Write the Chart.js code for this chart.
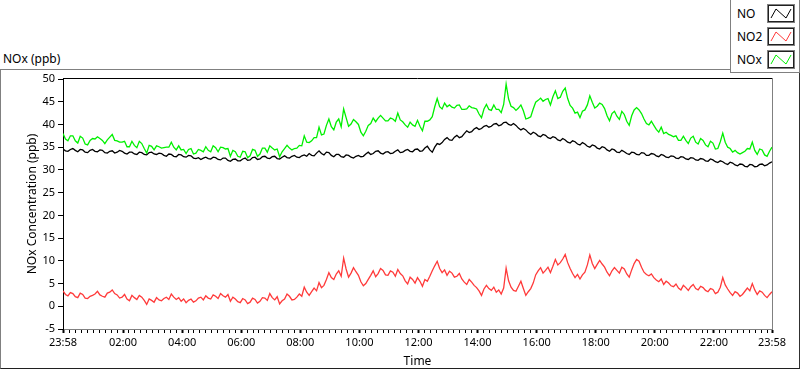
<!DOCTYPE html>
<html>
<head>
<meta charset="utf-8">
<title>NOx (ppb)</title>
<script src="https://cdn.jsdelivr.net/npm/chart.js@4.4.1/dist/chart.umd.min.js"></script>
<style>
	html, body { margin: 0; padding: 0; background: #fff; }
	body { width: 800px; height: 369px; position: relative; overflow: hidden; font-family: "Noto Sans", sans-serif; color: #000; }
	#frame { position: absolute; left: 0; top: 69px; width: 798px; height: 298px; border-top: 1px solid #808080; border-left: 1px solid #808080; border-right: 1px solid #303030; border-bottom: 1px solid #202020; }
	#chartTitle { position: absolute; left: 3px; top: 51px; font-size: 12px; line-height: 16px; }
	#legend { position: absolute; left: 730px; top: -1px; width: 68px; height: 72px; border: 1px solid #808080; background: #fff; }
	.row { position: absolute; left: 6px; width: 60px; height: 19px; }
	.row span { position: absolute; left: 0; top: 0; font-size: 12px; line-height: 19px; }
	.row svg { position: absolute; left: 30px; top: 0; }
	canvas { position: absolute; left: 0; top: 0; }
</style>
</head>
<body>
<div id="frame"></div>
<div id="chartTitle">NOx (ppb)</div>
<div id="legend"></div>
<canvas id="myChart" width="800" height="369"></canvas>
<script>
// one sample every 5 minutes, starting 23:58
var sampleStep = 5;

var seriesNames = ["NO", "NO2", "NOx"];
var seriesColors = ["#000000", "#ff3a3a", "#00f000"];

var noValues = [
	34.6, 34.2, 34.1, 34.5, 34.7, 34.3, 34.0, 34.5, 34.4, 33.9, 33.8, 34.3, 34.5, 34.1, 34.0, 34.4, 34.3, 33.8, 33.7, 34.1,
	34.2, 33.7, 33.9, 34.3, 34.1, 33.7, 33.5, 33.9, 33.9, 33.5, 33.4, 33.9, 33.8, 33.4, 33.3, 33.8, 33.9, 33.5, 33.4, 33.7,
	33.6, 33.2, 33.0, 33.5, 33.4, 33.0, 32.9, 33.4, 33.3, 32.9, 32.8, 33.2, 33.1, 32.6, 32.5, 32.7, 32.3, 32.6, 32.8, 32.5,
	32.4, 32.8, 32.7, 32.3, 32.2, 32.6, 32.6, 32.1, 31.9, 32.3, 32.4, 32.0, 32.0, 32.4, 32.6, 32.1, 32.2, 32.7, 32.8, 32.3,
	32.4, 32.9, 33.0, 32.6, 32.5, 32.9, 33.0, 32.5, 32.4, 32.8, 33.1, 32.7, 32.6, 33.0, 33.2, 32.8, 32.7, 33.1, 33.3, 33.0,
	33.6, 33.2, 33.1, 33.7, 34.2, 33.6, 33.3, 33.9, 33.8, 33.2, 32.9, 33.4, 33.4, 32.9, 32.8, 33.3, 33.2, 32.8, 32.6, 33.0,
	33.2, 32.9, 33.0, 33.5, 33.9, 33.4, 33.6, 34.1, 34.2, 33.7, 33.5, 33.9, 34.0, 33.6, 33.7, 34.1, 34.4, 33.8, 33.9, 34.3,
	34.5, 34.1, 34.0, 34.5, 34.6, 34.1, 34.2, 34.8, 35.2, 34.4, 33.9, 35.0, 35.8, 35.6, 36.0, 36.7, 37.1, 36.6, 36.5, 37.2,
	37.6, 37.1, 37.3, 38.0, 38.6, 38.2, 38.4, 39.0, 39.3, 38.9, 39.1, 39.6, 39.8, 39.4, 39.6, 40.1, 40.2, 39.7, 39.9, 40.4,
	40.5, 40.0, 39.8, 40.2, 39.8, 39.2, 38.8, 39.1, 38.8, 38.2, 37.8, 38.3, 38.0, 37.5, 37.3, 37.8, 37.6, 37.1, 36.9, 37.3,
	37.1, 36.6, 36.4, 36.9, 36.6, 36.1, 35.9, 36.4, 36.2, 35.7, 35.5, 36.0, 35.7, 35.2, 35.0, 35.5, 35.3, 34.8, 34.6, 35.1,
	34.9, 34.4, 34.1, 34.6, 34.4, 33.9, 33.8, 34.3, 34.0, 33.6, 33.4, 33.9, 33.8, 33.4, 33.3, 33.8, 33.7, 33.2, 33.2, 33.6,
	33.5, 33.1, 32.9, 33.4, 33.2, 32.8, 32.7, 33.1, 33.0, 32.6, 32.5, 32.9, 32.8, 32.4, 32.3, 32.7, 32.6, 32.2, 32.1, 32.5,
	32.4, 32.0, 31.9, 32.4, 32.2, 31.8, 31.6, 32.0, 31.8, 31.4, 31.2, 31.7, 31.5, 31.1, 30.9, 31.3, 31.2, 30.8, 30.7, 31.2,
	31.1, 30.7, 30.8, 31.2, 31.3, 30.9, 31.1, 31.5, 31.8
];

var no2Values = [
	3.4, 2.6, 2.3, 3.0, 2.8, 2.1, 1.9, 2.9, 2.6, 1.8, 1.7, 2.2, 2.4, 2.7, 3.3, 2.5, 2.2, 2.0, 2.9, 3.1,
	3.6, 2.8, 2.5, 1.8, 2.0, 2.6, 1.6, 1.2, 2.4, 1.9, 1.5, 2.4, 2.0, 1.3, 0.4, 1.6, 1.3, 0.9, 1.9, 1.4,
	1.2, 1.7, 2.0, 1.5, 2.7, 2.0, 1.5, 1.9, 1.1, 1.6, 0.8, 1.3, 1.6, 0.9, 1.2, 1.8, 2.0, 1.4, 2.3, 1.8,
	1.6, 2.5, 2.2, 1.7, 2.8, 2.3, 2.0, 2.6, 1.1, 2.0, 1.6, 1.0, 0.8, 1.7, 1.4, 0.6, 0.9, 1.8, 1.5, 0.7,
	1.1, 1.9, 1.8, 1.3, 2.8, 1.9, 1.4, 2.1, 0.5, 1.2, 1.6, 2.7, 2.2, 1.4, 1.5, 2.0, 2.7, 2.2, 4.2, 3.1,
	2.4, 3.2, 4.0, 3.4, 5.2, 4.1, 4.6, 5.9, 7.4, 6.3, 5.9, 7.1, 7.8, 6.6, 10.6, 8.2, 6.4, 7.3, 8.5, 7.6,
	6.8, 5.4, 4.5, 5.0, 5.9, 6.8, 7.8, 6.5, 7.2, 8.3, 7.9, 6.9, 6.8, 7.8, 7.5, 6.6, 8.1, 7.2, 6.7, 5.6,
	4.9, 6.4, 5.9, 5.1, 6.3, 5.5, 4.4, 5.9, 5.5, 6.6, 7.8, 8.9, 9.9, 8.3, 7.4, 8.0, 6.8, 7.7, 7.3, 6.4,
	6.6, 7.2, 6.0, 5.3, 4.8, 5.9, 5.3, 4.6, 4.1, 3.4, 2.4, 3.8, 4.6, 3.9, 3.5, 4.2, 3.1, 3.6, 2.7, 4.0,
	8.4, 5.6, 4.2, 3.5, 3.3, 4.4, 5.5, 3.9, 2.4, 3.2, 3.9, 5.1, 6.9, 7.8, 8.5, 7.3, 7.9, 8.6, 7.4, 8.8,
	10.3, 9.1, 9.6, 10.4, 11.4, 9.6, 8.3, 7.2, 6.3, 7.0, 6.0, 6.9, 7.5, 9.1, 11.3, 9.4, 8.3, 9.2, 10.1, 9.3,
	8.6, 7.5, 6.7, 7.8, 8.5, 7.9, 7.3, 8.6, 8.2, 7.1, 6.4, 8.0, 9.4, 10.3, 9.9, 8.6, 7.5, 7.0, 6.7, 7.1,
	6.3, 5.8, 5.4, 6.0, 4.8, 5.5, 5.1, 4.5, 4.3, 4.9, 4.0, 3.6, 4.6, 4.1, 3.5, 4.3, 4.8, 3.9, 3.6, 4.4,
	4.1, 3.5, 3.2, 3.9, 3.7, 2.8, 3.1, 4.2, 6.3, 4.7, 3.8, 3.0, 2.4, 3.2, 2.9, 2.2, 2.6, 3.3, 4.0, 3.4,
	5.0, 3.6, 2.6, 3.4, 3.1, 2.4, 1.9, 2.6, 3.2
];

var noxValues = [
	38.0, 36.8, 36.4, 37.5, 37.5, 36.4, 35.9, 37.4, 37.0, 35.7, 35.5, 36.5, 36.9, 36.8, 37.3, 36.9, 36.5, 35.8, 36.6, 37.2,
	37.8, 36.5, 36.4, 36.1, 36.1, 36.3, 35.1, 35.1, 36.3, 35.4, 34.9, 36.3, 35.8, 34.7, 33.7, 35.4, 35.2, 34.4, 35.3, 35.1,
	34.8, 34.9, 35.0, 35.0, 36.1, 35.0, 34.4, 35.3, 34.4, 34.5, 33.6, 34.5, 34.7, 33.5, 33.7, 34.5, 34.3, 34.0, 35.1, 34.3,
	34.0, 35.3, 34.9, 34.0, 35.0, 34.9, 34.6, 34.7, 33.0, 34.3, 34.0, 33.0, 32.8, 34.1, 34.0, 32.7, 33.1, 34.5, 34.3, 33.0,
	33.5, 34.8, 34.8, 33.9, 35.3, 34.8, 34.4, 34.6, 32.9, 34.0, 34.7, 35.4, 34.8, 34.4, 34.7, 34.8, 35.4, 35.3, 37.5, 36.1,
	36.0, 36.4, 37.1, 37.1, 39.4, 37.7, 37.9, 39.8, 41.2, 39.5, 38.8, 40.5, 41.2, 39.5, 43.4, 41.5, 39.6, 40.1, 41.1, 40.6,
	40.0, 38.3, 37.5, 38.5, 39.8, 40.2, 41.4, 40.6, 41.4, 42.0, 41.4, 40.8, 40.8, 41.4, 41.2, 40.7, 42.5, 41.0, 40.6, 39.9,
	39.4, 40.5, 39.9, 39.6, 40.9, 39.6, 38.6, 40.7, 40.7, 41.0, 41.7, 43.9, 45.7, 43.9, 43.4, 44.7, 43.9, 44.3, 43.8, 43.6,
	44.2, 44.3, 43.3, 43.3, 43.4, 44.1, 43.7, 43.6, 43.4, 42.3, 41.5, 43.4, 44.4, 43.3, 43.1, 44.3, 43.3, 43.3, 42.6, 44.4,
	48.9, 45.6, 44.0, 43.7, 43.1, 43.6, 44.3, 43.0, 41.2, 41.4, 41.7, 43.4, 44.9, 45.3, 45.8, 45.1, 45.5, 45.7, 44.3, 46.1,
	47.4, 45.7, 46.0, 47.3, 48.0, 45.7, 44.2, 43.6, 42.5, 42.7, 41.5, 42.9, 43.2, 44.3, 46.3, 44.9, 43.6, 44.0, 44.7, 44.4,
	43.5, 41.9, 40.8, 42.4, 42.9, 41.8, 41.1, 42.9, 42.2, 40.7, 39.8, 41.9, 43.2, 43.7, 43.2, 42.4, 41.2, 40.2, 39.9, 40.7,
	39.8, 38.9, 38.3, 39.4, 38.0, 38.3, 37.8, 37.6, 37.3, 37.5, 36.5, 36.5, 37.4, 36.5, 35.8, 37.0, 37.4, 36.1, 35.7, 36.9,
	36.5, 35.5, 35.1, 36.3, 35.9, 34.6, 34.7, 36.2, 38.1, 36.1, 35.0, 34.7, 33.9, 34.3, 33.8, 33.5, 33.8, 34.1, 34.7, 34.6,
	36.1, 34.3, 33.4, 34.6, 34.4, 33.3, 33.0, 34.1, 35.0
];

// x axis: minutes after 23:58
var majorTicks = [0, 122, 242, 362, 482, 602, 722, 842, 962, 1082, 1202, 1322, 1440];
var timeLabels = ["23:58", "02:00", "04:00", "06:00", "08:00", "10:00", "12:00", "14:00", "16:00", "18:00", "20:00", "22:00", "23:58"];
var minorStart = 14;
var minorStep = 12;

var yTicks = { min: -5, max: 50, step: 5 };

var fontName = "'Noto Sans', sans-serif";

function toPoints(values) {
	return values.map(function(v, i) {
		return { x: i * sampleStep, y: v };
	});
}

function isMajor(v) {
	return majorTicks.indexOf(v) !== -1;
}

// legend box top right
var legendEl = document.getElementById("legend");
seriesNames.forEach(function(name, i) {
	var row = document.createElement("div");
	row.className = "row";
	row.style.top = (4 + i * 23) + "px";
	row.innerHTML = "<span>" + name + "</span>" +
		"<svg width='28' height='19'>" +
		"<rect x='0.5' y='0.5' width='27' height='18' fill='#fff' stroke='#808080'/>" +
		"<rect x='1.5' y='1.5' width='25' height='16' fill='none' stroke='#202020'/>" +
		"<polyline points='4,14 9,5 19,14 24,5' fill='none' stroke='" + seriesColors[i] + "' stroke-width='1'/>" +
		"</svg>";
	legendEl.appendChild(row);
});

var plotFrame = {
	id: "plotFrame",
	afterDraw: function(chart) {
		var a = chart.chartArea;
		var c = chart.ctx;
		c.save();
		c.lineWidth = 1;
		c.strokeStyle = "#000";
		c.beginPath();
		c.moveTo(a.left, a.top - 0.5);
		c.lineTo(a.right, a.top - 0.5);
		c.stroke();
		c.strokeStyle = "#808080";
		c.beginPath();
		c.moveTo(a.right + 0.5, a.top - 1);
		c.lineTo(a.right + 0.5, a.bottom);
		c.stroke();
		c.restore();
	}
};

var datasets = [noValues, no2Values, noxValues].map(function(values, i) {
	return {
		label: seriesNames[i],
		data: toPoints(values),
		borderColor: seriesColors[i],
		backgroundColor: seriesColors[i],
		borderWidth: 1.3,
		pointRadius: 0,
		tension: 0,
		fill: false
	};
});

var ctx = document.getElementById("myChart");

var myChart = new Chart(ctx, {
	type: "line",
	data: { datasets: datasets },
	options: {
		responsive: false,
		animation: false,
		layout: { padding: { top: 79, right: 28, left: 0, bottom: 0 } },
		plugins: {
			legend: { display: false },
			tooltip: { enabled: false }
		},
		scales: {
			x: {
				type: "linear",
				min: 0,
				max: 1440,
				afterFit: function(scale) { scale.height = 40; },
				afterBuildTicks: function(scale) {
					var list = majorTicks.slice();
					for (var v = minorStart; v < 1440; v += minorStep) {
						if (!isMajor(v)) list.push(v);
					}
					list.sort(function(a, b) { return a - b; });
					scale.ticks = list.map(function(v) { return { value: v }; });
				},
				ticks: {
					autoSkip: false,
					maxRotation: 0,
					padding: 3,
					color: "#000",
					font: { family: fontName, size: 11 },
					callback: function(value) {
						var k = majorTicks.indexOf(value);
						return k === -1 ? "" : timeLabels[k];
					}
				},
				grid: {
					drawOnChartArea: false,
					tickLength: 4,
					tickColor: "#000",
					tickWidth: function(c) { return c.tick && isMajor(c.tick.value) ? 2 : 1; }
				},
				border: { color: "#808080", width: 1 },
				title: {
					display: true,
					text: "Time",
					color: "#000",
					font: { family: fontName, size: 12 },
					padding: { top: 0, bottom: 0 }
				}
			},
			y: {
				min: yTicks.min,
				max: yTicks.max,
				afterFit: function(scale) { scale.width = 63; },
				ticks: {
					stepSize: yTicks.step,
					padding: 3,
					color: "#000",
					font: { family: fontName, size: 11 }
				},
				grid: {
					drawOnChartArea: false,
					tickLength: 5,
					tickColor: "#000"
				},
				border: { color: "#000", width: 1 },
				title: {
					display: true,
					text: "NOx Concentration (ppb)",
					color: "#000",
					font: { family: fontName, size: 12 },
					padding: { top: 25, bottom: 0 }
				}
			}
		}
	},
	plugins: [plotFrame]
});
</script>
</body>
</html>
